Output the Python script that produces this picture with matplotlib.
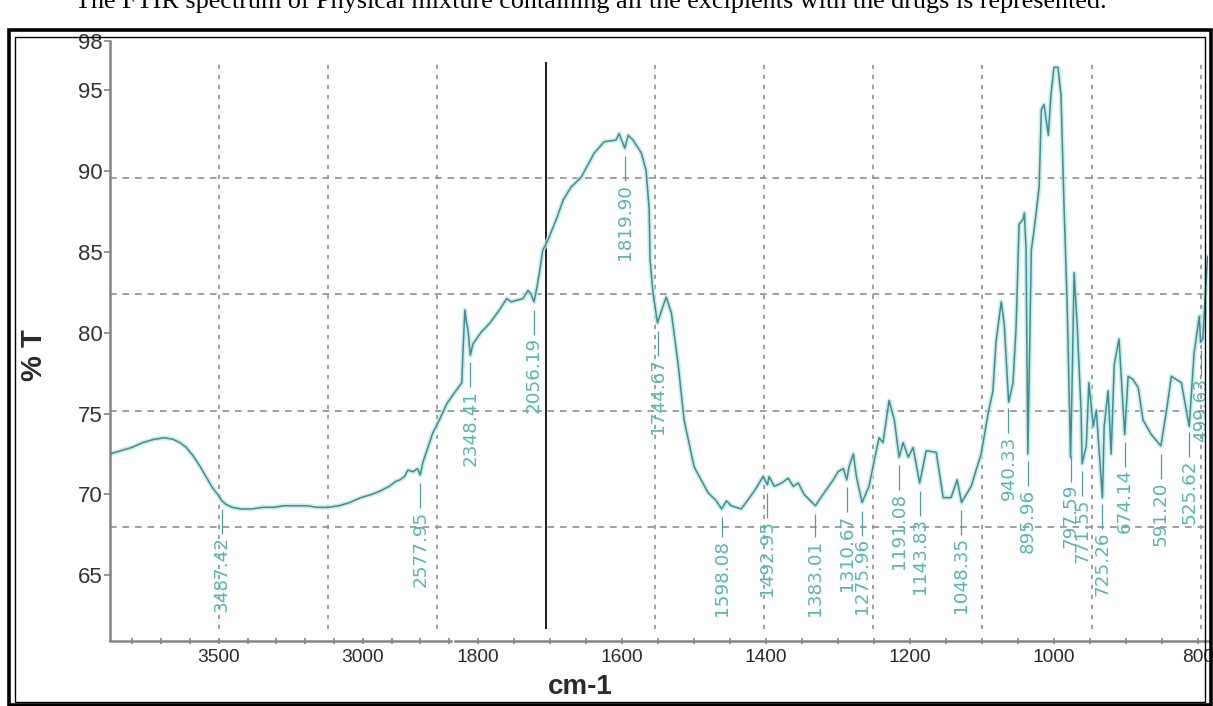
import numpy as np
import matplotlib
matplotlib.use("Agg")
import matplotlib.pyplot as plt
from matplotlib.patches import Rectangle
from matplotlib.ticker import MultipleLocator

# FTIR trace: wavenumber (cm-1, descending) and % transmittance
wavenumber = [
    4000, 3950, 3900, 3850, 3800, 3750, 3710, 3680, 3650, 3620, 3590, 3560,
    3530, 3500, 3487, 3470, 3440, 3400, 3350, 3300, 3250, 3200, 3150, 3100,
    3050, 3000, 2950, 2900, 2850, 2800, 2763, 2720, 2690, 2671, 2650, 2634,
    2610, 2590, 2578, 2565, 2545, 2520, 2490, 2456, 2420, 2387, 2382, 2373,
    2365, 2359, 2348, 2336, 2300, 2258, 2220, 2181, 2160, 2135, 2107, 2084,
    2070, 2056, 2043, 2030, 2016, 2000, 1995,
    1977, 1961, 1943, 1920, 1890, 1867, 1840, 1833, 1820, 1812, 1801, 1782,
    1771, 1764, 1762, 1755, 1745, 1734, 1725, 1713, 1697, 1684, 1661, 1629,
    1610, 1598, 1587, 1576, 1553, 1523, 1503, 1493, 1489, 1477, 1461, 1445,
    1434, 1422, 1409, 1383, 1363, 1342, 1331, 1319, 1311, 1306, 1296, 1289,
    1276, 1260, 1248, 1237, 1228, 1214, 1202, 1191, 1182, 1170, 1159, 1144,
    1129, 1106, 1090, 1072, 1058, 1048, 1026, 1003, 987, 976, 969, 957,
    950, 940, 930, 923, 916, 907, 904, 900, 896, 888, 881, 870,
    865, 859, 849, 843, 836, 827, 820, 813, 806, 798, 794, 790,
    783, 774, 771.5, 762, 756, 746, 739, 725, 721, 712, 705, 698,
    687, 680, 674, 666, 655, 643, 632, 613, 591, 578, 567, 544,
    526, 515, 503, 500, 495, 484,
]
transmittance = [
    72.5, 72.7, 72.9, 73.2, 73.4, 73.5, 73.4, 73.2, 72.9, 72.4, 71.8, 71.1,
    70.4, 69.9, 69.6, 69.4, 69.2, 69.1, 69.1, 69.2, 69.2, 69.3, 69.3, 69.3,
    69.2, 69.2, 69.3, 69.5, 69.8, 70.0, 70.2, 70.5, 70.8, 70.9, 71.1, 71.5,
    71.4, 71.6, 71.2, 72.0, 72.8, 73.8, 74.6, 75.6, 76.3, 76.9, 78.7, 81.4,
    80.6, 80.2, 78.6, 79.3, 80.0, 80.6, 81.3, 82.1, 81.9, 82.0, 82.1, 82.6,
    82.4, 81.9, 82.8, 83.8, 85.1, 85.5, 85.8,
    87.0, 88.2, 89.0, 89.6, 91.1, 91.8, 91.9, 92.3, 91.4, 92.2, 91.9, 91.1,
    90.0, 87.6, 84.5, 82.4, 80.6, 81.5, 82.2, 81.2, 77.9, 74.6, 71.7, 70.1,
    69.6, 69.1, 69.6, 69.3, 69.1, 70.2, 71.1, 70.6, 71.1, 70.5, 70.7, 71.0,
    70.5, 70.7, 70.0, 69.3, 70.1, 70.9, 71.4, 71.6, 70.9, 71.7, 72.5, 71.1,
    69.5, 70.5, 72.1, 73.5, 73.2, 75.8, 74.6, 72.3, 73.2, 72.3, 72.9, 70.7,
    72.7, 72.6, 69.8, 69.8, 70.9, 69.5, 70.5, 72.5, 75.0, 76.4, 79.4, 81.9,
    80.5, 75.7, 76.9, 80.3, 86.7, 87.0, 87.4, 85.1, 72.5, 85.1, 86.5, 89.0,
    93.8, 94.1, 92.2, 94.7, 96.4, 96.4, 94.7, 87.8, 81.9, 72.3, 77.6, 83.7,
    80.5, 75.2, 71.9, 73.0, 76.9, 74.2, 75.2, 69.8, 74.2, 76.4, 72.5, 78.0,
    79.6, 76.4, 73.7, 77.3, 77.1, 76.6, 74.6, 73.7, 73.0, 75.2, 77.3, 76.9,
    74.2, 78.7, 81.0, 79.4, 79.6, 84.7,
]

peak_labels = [
    "3487.42", "2577.95", "2348.41", "2056.19", "1819.90", "1744.67",
    "1598.08", "1492.95", "1383.01", "1310.67", "1275.96", "1191.08",
    "1143.83", "1048.35", "940.33", "895.96", "797.59", "771.55",
    "725.26", "674.14", "591.20", "525.62", "499.63",
]
peak_wn = [float(s) for s in peak_labels]

y_ticks = [65, 70, 75, 80, 85, 90, 95, 98]
grid_wn = [3500, 3000, 2500, 1750, 1500, 1250, 1000, 750, 500]
grid_t = [89.55, 82.4, 75.15, 68.0]

# printed wavenumber scale under the plot, drawn in two pieces
left_ticks = [3500, 3000]
right_ticks = [1800, 1600, 1400, 1200, 1000, 800]

caption = ("The FTIR spectrum of Physical mixture containing all the "
           "excipients with the drugs is represented.")

W, H = 1213, 706
TEAL = "#3f8f90"
LABEL = "#56b6b6"
GRID = "#8f8f8f"
AXIS = "#858585"

plt.rcParams["font.family"] = ["Liberation Sans", "DejaVu Sans"]


def fwd(w):
    # 4000-2000 cm-1 is drawn at half the scale of the region below 2000
    w = np.asarray(w, dtype=float)
    return np.where(w >= 2000, 2000 + (w - 2000) * 0.5, w)


def inv(u):
    u = np.asarray(u, dtype=float)
    return np.where(u >= 2000, 2000 + (u - 2000) * 2.0, u)


def fig_box(x0, y0, x1, y1):
    # pixel box (origin top-left) -> figure-fraction rect
    return [x0 / W, 1 - y1 / H, (x1 - x0) / W, (y1 - y0) / H]


fig = plt.figure(figsize=(W / 100, H / 100), dpi=100)
fig.patch.set_facecolor("white")

# double frame around the figure
for (x0, y0, x1, y1), lw in [((8.5, 29.5, 1210.5, 704.5), 2.6),
                             ((15, 36.5, 1204.5, 701.5), 1.0)]:
    fig.patches.append(Rectangle((x0 / W, 1 - y1 / H), (x1 - x0) / W,
                                 (y1 - y0) / H, transform=fig.transFigure,
                                 fill=False, lw=lw, ec="black"))

fig.text(75 / W, 1 - 8 / H, caption, family="Liberation Serif",
         fontsize=18.8, va="baseline", ha="left", color="black")

ax = fig.add_axes(fig_box(110, 41.4, 1208, 640))
ax.set_xscale("function", functions=(fwd, inv))
ax.set_xlim(4000, 483)
ax.set_ylim(61.0, 98.0)
ax.patch.set_visible(False)

for side in ("top", "right", "bottom"):
    ax.spines[side].set_visible(False)
ax.spines["left"].set(color=AXIS, lw=1.8)
ax.tick_params(axis="x", bottom=False, labelbottom=False)
ax.set_yticks(y_ticks)
ax.tick_params(axis="y", direction="out", length=4, width=1.2, color=AXIS,
               pad=1, labelsize=16, labelcolor="#333333")

ax.set_ylabel("% T", fontsize=21, fontweight="bold", color="#2a2a2a")
ax.yaxis.set_label_coords(-0.0565, 0.476)

# grid
ax.vlines(grid_wn, 61.7, 96.7, colors=GRID, linestyles=(0, (2.5, 3.5)),
          lw=1.2, zorder=1)
for t in grid_t:
    ax.axhline(t, color=GRID, ls=(0, (4, 3.5)), lw=1.2, zorder=1)
ax.vlines(2000, 61.7, 96.7, colors="#1c1c1c", lw=1.4, zorder=1)

# spectrum with its soft halo
ax.plot(wavenumber, transmittance, color="#bfe7e8", lw=3.4, alpha=0.8,
        zorder=2, solid_joinstyle="round")
ax.plot(wavenumber, transmittance, color=TEAL, lw=1.1, zorder=3)

# peak picks, hung below each minimum but kept off the bottom of the plot
wn_arr = np.array(wavenumber)[::-1]
t_arr = np.array(transmittance)[::-1]
for s, w in zip(peak_labels, peak_wn):
    t = np.interp(w, wn_arr, t_arr)
    top = max(t - 2.2, 67.2)
    ax.vlines(w, top + 0.15, t - 0.5, colors="#4a9fa0", lw=0.9, zorder=3)
    ax.text(w, top, s, rotation=90, ha="center", va="top", fontsize=13.2,
            family="DejaVu Sans", color=LABEL, zorder=4)


def scale_piece(x0, x1, lim, major, minor_step):
    a = fig.add_axes(fig_box(x0, 639.5, x1, 640.5))
    a.set_xlim(*lim)
    a.set_ylim(0, 1)
    a.patch.set_visible(False)
    for side in ("left", "right", "top"):
        a.spines[side].set_visible(False)
    a.spines["bottom"].set(color=AXIS, lw=1.8)
    a.set_yticks([])
    a.set_xticks(major)
    a.xaxis.set_minor_locator(MultipleLocator(minor_step))
    a.tick_params(axis="x", which="both", direction="inout", length=5,
                  width=1.2, color=AXIS, labelsize=13.8,
                  labelcolor="#2b2b2b", pad=3.5)
    return a


scale_piece(110, 451, (3878, 2694), left_ticks, 100)
scale_piece(455, 1208, (1832, 786), right_ticks, 50)

fig.text(580 / W, 1 - 687 / H, "cm-1", fontsize=20, fontweight="bold",
         color="#2a2a2a", ha="center", va="center")

fig.savefig("out.png", dpi=100)
